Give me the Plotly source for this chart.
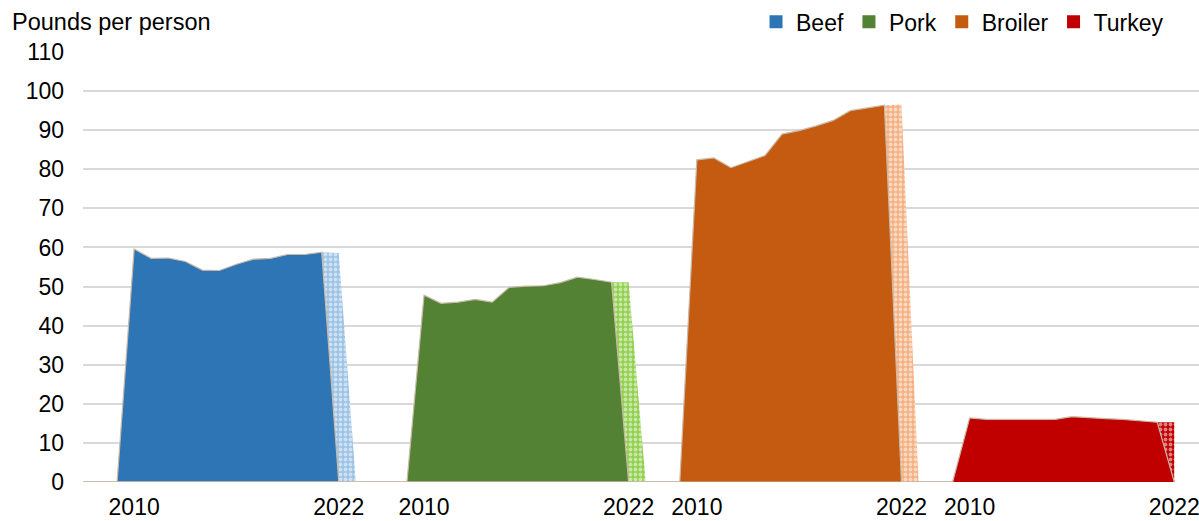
import plotly.graph_objects as go

# ---- data ----
years = list(range(2010, 2023))  # 2010..2022 (2022 = forecast)
beef =    [59.6, 57.2, 57.3, 56.4, 54.2, 54.1, 55.7, 57.0, 57.2, 58.2, 58.2, 58.8, 58.6]
pork =    [47.8, 45.7, 46.0, 46.7, 46.0, 49.8, 50.1, 50.2, 51.0, 52.4, 51.8, 51.1, 51.1]
broiler = [82.4, 82.9, 80.4, 81.9, 83.5, 89.0, 89.9, 91.1, 92.5, 95.0, 95.7, 96.4, 96.6]
turkey =  [16.4, 16.0, 16.0, 16.0, 15.9, 16.0, 16.7, 16.4, 16.2, 16.0, 15.7, 15.3, 15.3]
tick_labels = ["2010", "2022"]

names = ["Beef", "Pork", "Broiler", "Turkey"]
series = [beef, pork, broiler, turkey]
solid_colors = ["#2E75B6", "#548235", "#C55A11", "#C00000"]
pattern_bg = ["#9DC3E6", "#92D050", "#F4B183", "#C00000"]

# category layout (positions of 2010 for each block on the category axis)
block_start = [3, 20, 36, 52]
n_cat = 65

fig = go.Figure()
tickvals, ticktext = [], []
for name, vals, c, pbg, s0 in zip(names, series, solid_colors, pattern_bg, block_start):
    # full-length category arrays, zero outside the block (Excel style)
    solid = [0.0] * n_cat
    patt = [0.0] * n_cat
    for i, v in enumerate(vals[:-1]):
        solid[s0 + i] = v
    patt[s0 + len(vals) - 2] = vals[-2]
    patt[s0 + len(vals) - 1] = vals[-1]
    xs = list(range(n_cat))
    fig.add_trace(go.Scatter(
        x=xs, y=patt, mode="lines", fill="tozeroy",
        line=dict(width=0, color=pbg),
        fillcolor=pbg,
        fillpattern=dict(shape=".", fgcolor="white", bgcolor=pbg, size=5, solidity=0.45),
        showlegend=False, hoverinfo="skip"))
    fig.add_trace(go.Scatter(
        x=xs, y=solid, mode="lines", fill="tozeroy",
        line=dict(width=1.2, color="#C9B9A6"),
        fillcolor=c, showlegend=False, name=name))
    tickvals += [s0, s0 + len(vals) - 1]
    ticktext += [tick_labels[0], tick_labels[1]]

# legend entries
for name, c in zip(names, solid_colors):
    fig.add_trace(go.Scatter(x=[None], y=[None], mode="markers", name=name,
                             marker=dict(symbol="square", size=13, color=c)))

fig.update_layout(
    width=1199, height=521,
    margin=dict(l=83, r=0, t=52, b=39, autoexpand=False),
    paper_bgcolor="white", plot_bgcolor="white",
    font=dict(family="Liberation Sans, Arial, sans-serif", size=23, color="#000000"),
    legend=dict(orientation="h", xref="container", yref="container",
                x=0.975, xanchor="right", y=0.958, yanchor="middle",
                font=dict(size=23), itemwidth=30, tracegroupgap=0,
                bgcolor="rgba(0,0,0,0)"),
    showlegend=True,
    annotations=[dict(text="Pounds per person", xref="paper", yref="paper",
                      x=-0.0654, y=1.07, xanchor="left", yanchor="middle",
                      showarrow=False, font=dict(size=23.5))],
)
fig.update_xaxes(range=[0, 65.45], tickvals=tickvals, ticktext=ticktext,
                 showgrid=False, zeroline=False, showline=False, automargin=False,
                 ticks="", ticklabelstandoff=9, ticklabeloverflow="allow",
                 tickfont=dict(size=23))
fig.update_yaxes(range=[0, 110], dtick=10, showgrid=True, gridcolor="#D9D9D9",
                 gridwidth=2, zeroline=False, showline=False, ticks="", automargin=False,
                 ticklabelstandoff=18, tickfont=dict(size=23))

fig.write_html("out.html")
